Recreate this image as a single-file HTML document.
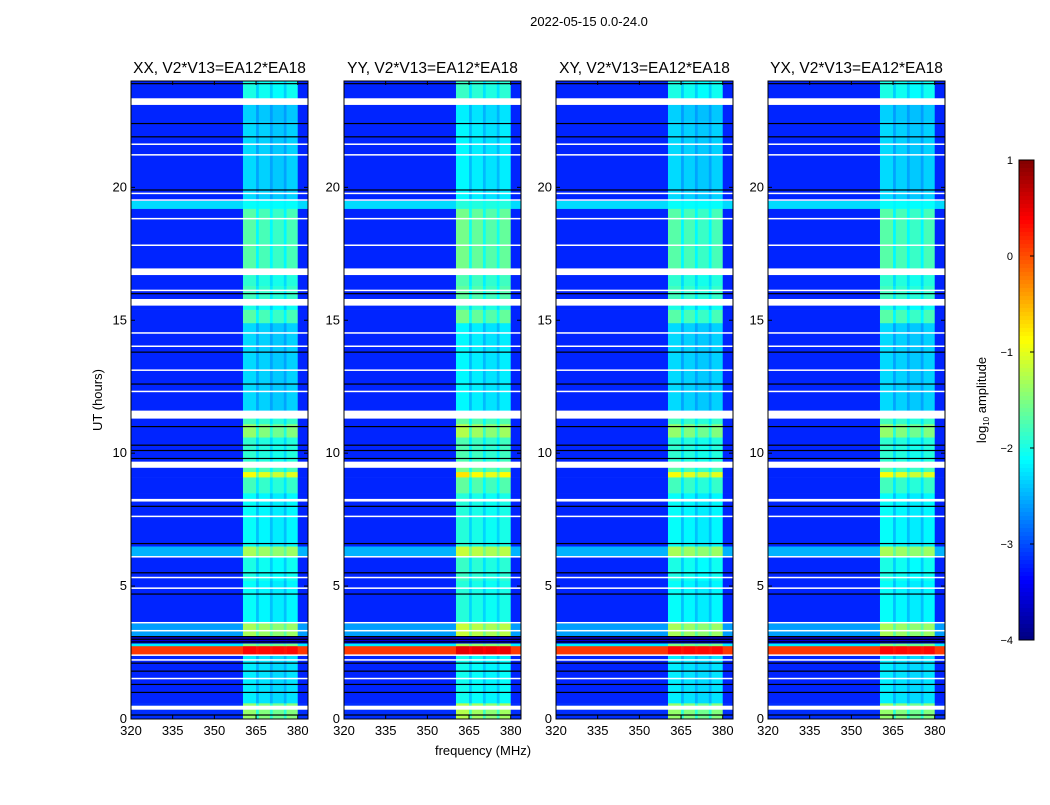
<!DOCTYPE html>
<html><head><meta charset="utf-8">
<style>
body{margin:0;background:#fff;font-family:"Liberation Sans",sans-serif;}
svg text{font-family:"Liberation Sans",sans-serif;}
</style></head>
<body>
<svg id="fig" width="1050" height="800" xmlns="http://www.w3.org/2000/svg">
<rect width="1050" height="800" fill="#fff"/>
<text x="589" y="26" font-size="13" text-anchor="middle">2022-05-15 0.0-24.0</text>
<text x="102" y="400" font-size="13" text-anchor="middle" transform="rotate(-90 102 400)">UT (hours)</text>
<text x="483" y="755" font-size="13" text-anchor="middle">frequency (MHz)</text>
<g id="panels"></g>
<g id="cbar"></g>
</svg>
<script>
// ---- data ----
const panelTitles = ["XX, V2*V13=EA12*EA18","YY, V2*V13=EA12*EA18","XY, V2*V13=EA12*EA18","YX, V2*V13=EA12*EA18"];
const panelBandOffset = [0, 0.15, 0, 0];
const xTicks = [320, 335, 350, 365, 380];
const yTicks = [0, 5, 10, 15, 20];
const cbarTicks = [1, 0, -1, -2, -3, -4];
// channel edges (MHz) and relative band strength per channel group
const chanStart = [320, 360.3, 365, 366, 370, 371, 375, 376, 380];
const chanEnd   = [360.3, 365, 366, 370, 371, 375, 376, 380, 383.7];
const chanIsBand = [0, 1, 0.7, 0.95, 0.7, 0.9, 0.7, 0.95, 0];
// time segments (hours): background and band log10 amplitude
const segStart = [0, 0.6, 2.4, 2.75, 2.85, 3.1, 3.6, 5.2, 6.1, 6.5, 8.5, 9.1, 9.3, 9.7, 10.6, 11.1, 11.6, 14.9, 15.4, 15.8, 16.3, 16.9, 19.2, 19.5, 22.5, 23.35];
const segEnd   = [0.6, 2.4, 2.75, 2.85, 3.1, 3.6, 5.2, 6.1, 6.5, 8.5, 9.1, 9.3, 9.7, 10.6, 11.1, 11.6, 14.9, 15.4, 15.8, 16.3, 16.9, 19.2, 19.5, 22.5, 23.35, 24];
const segBg    = [-3.15, -3.2, 0.1, -2.2, -3.6, -2.6, -3.2, -3.2, -2.5, -3.2, -3.2, -3.2, -3.2, -3.2, -3.2, -3.2, -3.2, -3.2, -3.2, -3.2, -3.2, -3.2, -2.3, -3.2, -3.2, -3.2];
const segBand  = [-1.4, -2.2, 0.35, -1.5, -3.6, -1.3, -2.1, -2.0, -1.3, -2.1, -1.8, -0.9, -1.7, -1.9, -1.4, -1.8, -2.3, -1.7, -2.0, -1.8, -1.9, -1.7, -2.1, -2.3, -2.35, -2.0];
const whiteStart = [0.35,1.5,2.2,2.38,3.3,3.6,4.9,5.3,6.08,7.6,8.18,9.45,11.3,12.3,13.1,14.0,14.5,15.55,16.1,16.7,17.8,18.8,19.5,19.75,21.2,21.6,23.1];
const whiteEnd   = [0.5,1.55,2.25,2.43,3.35,3.65,4.95,5.35,6.13,7.65,8.28,9.68,11.6,12.35,13.15,14.05,14.55,15.8,16.15,16.95,17.85,18.85,19.55,19.8,21.25,21.65,23.35];
const blackLines = [0.15,1.0,1.3,1.8,2.1,2.9,3.0,3.1,4.7,5.5,6.6,8.0,9.8,10.1,10.3,11.0,12.6,13.8,16.0,19.9,21.9,22.4,23.9];

function jet(v){ // v in [-4,1]
  let t=(v+4)/5; t=Math.max(0,Math.min(1,t));
  const f=x=>Math.max(0,Math.min(1,x));
  const r=f(1.5-Math.abs(4*t-3)), g=f(1.5-Math.abs(4*t-2)), b=f(1.5-Math.abs(4*t-1));
  return `rgb(${Math.round(r*255)},${Math.round(g*255)},${Math.round(b*255)})`;
}
const NS="http://www.w3.org/2000/svg";
function mk(tag, attrs, parent){const e=document.createElementNS(NS,tag);for(const k in attrs)e.setAttribute(k,attrs[k]);parent.appendChild(e);return e;}

const panelX=[131,344,556,768], pw=177, pTop=81, pBot=719;
const root=document.getElementById('panels');
panelX.forEach((px,pi)=>{
  const g=mk('g',{},root);
  
  
  const xs=f=>px+(f-320)*pw/63.7;
  const ys=h=>pBot-(h/24)*(pBot-pTop);
  for(let s=0;s<segStart.length;s++){
    for(let c=0;c<chanStart.length;c++){
      const band=chanIsBand[c];
      const v = band>0 ? segBg[s]+(segBand[s]+panelBandOffset[pi]-segBg[s])*band : segBg[s];
      const r=mk('rect',{x:xs(chanStart[c]),y:ys(segEnd[s]),width:xs(chanEnd[c])-xs(chanStart[c])+0.3,height:ys(segStart[s])-ys(segEnd[s])+0.3,fill:jet(v)},g);
      
      
    }
  }
  for(let i=0;i<whiteStart.length;i++){
    const r=mk('rect',{x:px,y:ys(whiteEnd[i]),width:pw,height:Math.max(1.5,ys(whiteStart[i])-ys(whiteEnd[i])),fill:'#fff'},g);
    
    
  }
  blackLines.forEach(h=>{
    const r=mk('rect',{x:px,y:ys(h)-0.6,width:pw,height:1.2,fill:'#000'},g);
    
    
  });
  const fr=mk('rect',{x:px,y:pTop,width:pw,height:pBot-pTop,fill:'none',stroke:'#000','stroke-width':1},g);
  
  
  const t=mk('text',{x:px+pw/2,y:pTop-8,'font-size':15.5,'text-anchor':'middle'},g);
  t.textContent=panelTitles[pi];
  
  
  xTicks.forEach(v=>{
    const x=xs(v);
    mk('line',{x1:x,x2:x,y1:pBot,y2:pBot-4,stroke:'#000'},g);
    mk('line',{x1:x,x2:x,y1:pTop,y2:pTop+4,stroke:'#000'},g);
    const l=mk('text',{x:x,y:pBot+16,'font-size':13,'text-anchor':'middle'},g);
    l.textContent=v;
    
    
  });
  yTicks.forEach(v=>{
    const y=ys(v);
    mk('line',{x1:px,x2:px+4,y1:y,y2:y,stroke:'#000'},g);
    mk('line',{x1:px+pw,x2:px+pw-4,y1:y,y2:y,stroke:'#000'},g);
    const l=mk('text',{x:px-4,y:y+4,'font-size':13,'text-anchor':'end'},g);
    l.textContent=v;
    
    
  });
});
// colorbar
const cb=document.getElementById('cbar');
const cx=1019,cw=15,cy0=160,cy1=640;
for(let i=0;i<120;i++){
  const v=1-5*(i+0.5)/120;
  mk('rect',{x:cx,y:cy0+i*(cy1-cy0)/120,width:cw,height:(cy1-cy0)/120+0.5,fill:jet(v)},cb);
}
mk('rect',{x:cx,y:cy0,width:cw,height:cy1-cy0,fill:'none',stroke:'#000'},cb);
cbarTicks.forEach(v=>{
  const y=cy0+(1-v)/5*(cy1-cy0);
  mk('line',{x1:cx+cw-4,x2:cx+cw,y1:y,y2:y,stroke:'#000'},cb);
  const l=mk('text',{x:1013,y:y+4,'font-size':11,'text-anchor':'end'},cb);
  l.textContent=(v<0?'\u2212'+(-v):v);
  
  
});
const cl=mk('text',{x:986,y:400,'font-size':13,'text-anchor':'middle',transform:'rotate(-90 986 400)'},cb);
cl.innerHTML='log<tspan font-size="8" dy="3">10</tspan><tspan dy="-3"> amplitude</tspan>';


</script>
</body></html>
